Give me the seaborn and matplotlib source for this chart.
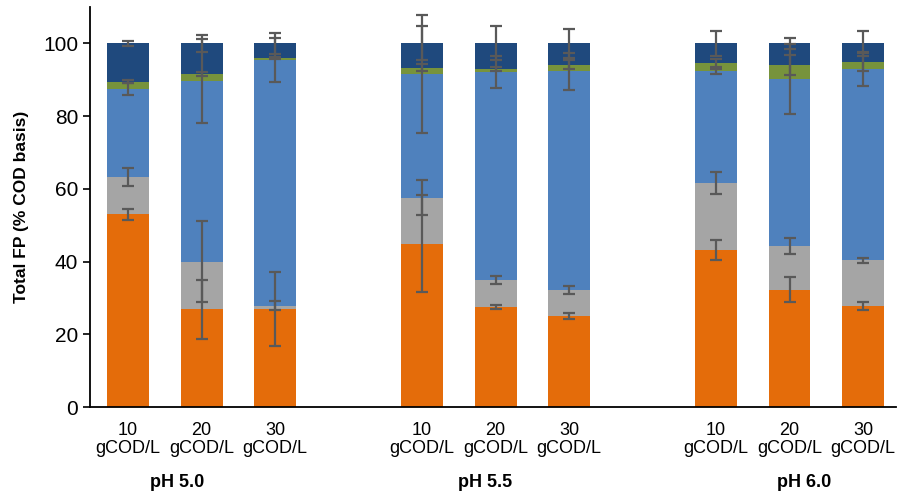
import pandas as pd
import seaborn as sns
import matplotlib.pyplot as plt
from matplotlib import transforms

# Categories
load_labels = ["10\ngCOD/L", "20\ngCOD/L", "30\ngCOD/L"] * 3
ph_groups = ["pH 5.0", "pH 5.5", "pH 6.0"]
positions = [0, 1, 2, 4, 5, 6, 8, 9, 10]   # blank slot between pH groups
ph_label_x = [0.67, 4.86, 9.2]

# Stacked segments (% COD basis), bottom to top
orange = [53.0, 26.9, 26.9, 44.9, 27.5, 25.0, 43.2, 32.3, 27.8]
gray = [10.2, 13.1, 1.0, 12.7, 7.4, 7.1, 18.3, 11.9, 12.6]
blue = [24.3, 49.6, 67.6, 34.0, 57.2, 60.2, 30.8, 45.9, 52.5]
green = [1.9, 1.9, 0.4, 1.7, 0.9, 1.8, 2.3, 4.0, 2.1]
navy = [10.6, 8.5, 4.1, 6.7, 7.0, 5.9, 5.4, 5.9, 5.0]

# Error bars (drawn at the top of each segment)
orange_err = [1.5, 8.1, 10.2, 13.3, 0.65, 0.9, 2.75, 3.5, 1.1]
gray_err = [2.5, 11.1, 1.2, 4.8, 1.1, 1.1, 3.05, 2.2, 0.7]
blue_err = [1.6, 11.6, 6.0, 16.2, 4.5, 5.1, 0.6, 9.6, 4.5]
green_err = [0.4, 0.5, 0.3, 1.0, 0.5, 1.2, 1.2, 2.7, 2.5]
navy_err = [0.7, 2.4, 2.85, 4.65, 4.7, 4.0, 3.5, 1.5, 3.4]

layers = [
    (orange, orange_err, "#E46C0A"),
    (gray, gray_err, "#A5A5A5"),
    (blue, blue_err, "#4F81BD"),
    (green, green_err, "#77933C"),
    (navy, navy_err, "#1F497D"),
]

sns.set_theme(style="white")
plt.rcParams["font.family"] = ["Liberation Sans", "DejaVu Sans"]
for key in ["text.color", "axes.labelcolor", "xtick.color", "ytick.color"]:
    plt.rcParams[key] = "#000000"

fig, ax = plt.subplots(figsize=(8.97, 4.93), dpi=100)
fig.subplots_adjust(left=0.1003, right=0.999, bottom=0.1744, top=0.9858)

# cumulative tops for stacking
df = pd.DataFrame({"pos": positions})
running = pd.Series([0.0] * len(positions))
tops = []
for vals, err, color in layers:
    running = running + pd.Series(vals)
    tops.append(running.copy())

# draw tallest first so lower segments sit on top
for (vals, err, color), top in reversed(list(zip(layers, tops))):
    sns.barplot(
        x=df["pos"], y=top, native_scale=True, color=color,
        saturation=1, width=0.57, errorbar=None, ax=ax, linewidth=0,
    )

for (vals, err, color), top in zip(layers, tops):
    ax.errorbar(
        positions, top, yerr=err, fmt="none", ecolor="#595959",
        elinewidth=1.6, capsize=4.5, capthick=1.6, zorder=5,
    )

# Axes
ax.set_ylim(0, 110)
ax.set_yticks(range(0, 101, 20))
ax.set_xlim(-0.52, 10.45)
ax.set_xticks(positions)
ax.set_xticklabels(load_labels, fontsize=13, linespacing=1.05)
ax.tick_params(axis="x", length=0, pad=11)
ax.tick_params(axis="y", labelsize=15, length=5, width=1.2, direction="out", left=True)
ax.set_xlabel("")
ax.set_ylabel("Total FP (% COD basis)", fontsize=12.5, fontweight="bold", labelpad=10)

for spine in ["top", "right"]:
    ax.spines[spine].set_visible(False)
for spine in ["left", "bottom"]:
    ax.spines[spine].set_color("#000000")
    ax.spines[spine].set_linewidth(1.3)
ax.grid(False)

# pH group labels under the tick labels
trans = transforms.blended_transform_factory(ax.transData, ax.transAxes)
for x, lab in zip(ph_label_x, ph_groups):
    ax.text(x, -0.1875, lab, transform=trans, ha="center", va="center",
            fontsize=13, fontweight="bold")

fig.savefig("out.png", dpi=100)
